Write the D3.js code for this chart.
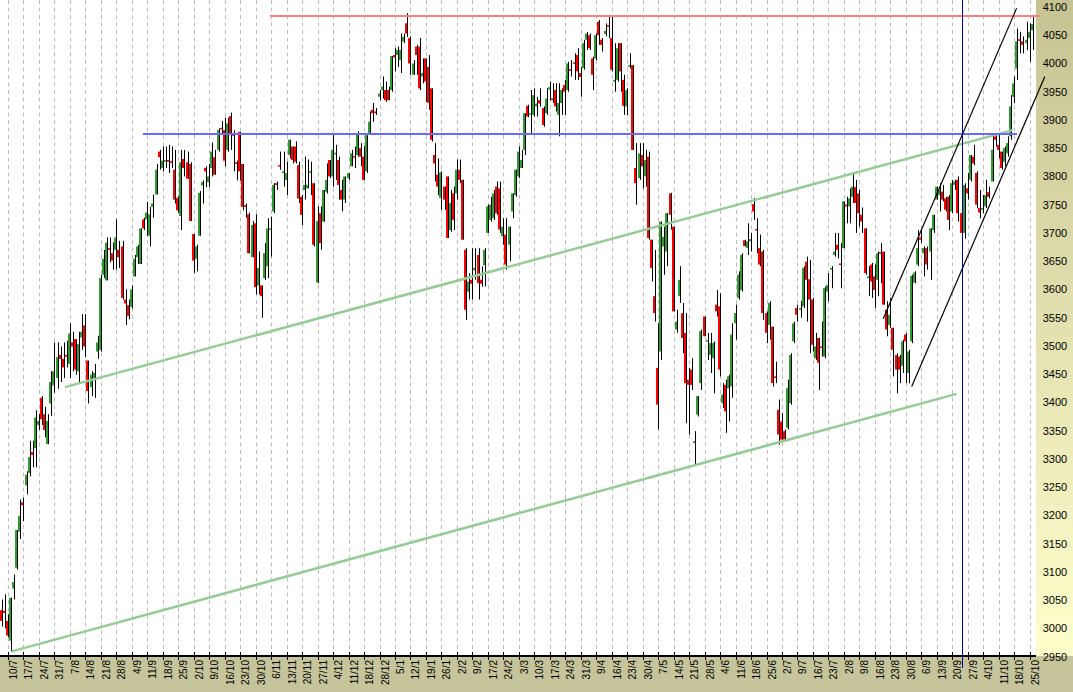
<!DOCTYPE html>
<html>
<head>
<meta charset="utf-8">
<script src="https://d3js.org/d3.v7.min.js"></script>
<style>
  body { margin: 0; overflow: hidden; background: #fff; }
  svg { display: block; }
  .ylab { font-family: "Liberation Sans", Arial, sans-serif; font-size: 11px; fill: #000; }
  .xlab { font-family: "Liberation Sans", Arial, sans-serif; font-size: 10px; fill: #000; }
</style>
</head>
<body>
<script>
// daily candles (index 0 = first visible bar)
var opens = [
  3101,3032,3031,3013,2978,3070,3107,3171,3223,3253, 3275,3312,3319,3360,3408,3379,3326,3398,3430,3443,
  3484,3477,3484,3468,3506,3512,3455,3515,3536,3474, 3427,3442,3490,3493,3626,3616,3673,3664,3670,3670,
  3676,3582,3572,3569,3623,3657,3645,3724,3724,3695, 3746,3768,3844,3815,3826,3829,3827,3812,3762,3730,
  3831,3825,3822,3698,3654,3695,3784,3815,3790,3815, 3834,3847,3886,3882,3847,3907,3875,3825,3879,3822,
  3749,3733,3657,3717,3607,3607,3620,3641,3706,3738, 3788,3820,3806,3794,3838,3853,3853,3820,3764,3776,
  3779,3806,3788,3612,3735,3720,3773,3829,3800,3839, 3829,3776,3759,3797,3818,3836,3838,3850,3835,3809,
  3877,3918,3915,3941,3953,3953,3953,3953,4015,4015, 4006,4039,4071,4045,3980,4030,4030,3977,4009,3994,
  3956,3838,3803,3762,3782,3800,3705,3770,3770,3812, 3794,3670,3596,3617,3634,3661,3617,3643,3700,3723,
  3726,3782,3779,3694,3697,3679,3738,3767,3800,3815, 3847,3925,3910,3909,3924,3935,3921,3912,3954,3938,
  3953,3909,3930,3962,3953,3990,4002,4015,3983,3992, 4042,4050,4009,4009,4074,4042,4052,4068,4045,3968,
  3971,4036,3971,3924,3994,3997,3815,3797,3838,3800, 3835,3688,3588,3461,3490,3676,3667,3770,3711,3529,
  3588,3558,3523,3440,3458,3328,3378,3434,3552,3508, 3484,3478,3573,3570,3399,3431,3425,3428,3540,3585,
  3599,3687,3673,3685,3751,3707,3673,3667,3558,3537, 3534,3446,3387,3366,3349,3355,3399,3508,3567,3564,
  3570,3649,3618,3582,3478,3514,3499,3481,3596,3635, 3661,3679,3646,3673,3750,3747,3764,3781,3770,3732,
  3708,3620,3644,3623,3617,3666,3667,3564,3537,3532, 3484,3481,3464,3520,3452,3508,3612,3644,3692,3664,
  3673,3667,3705,3759,3767,3773,3761,3764,3738,3785, 3794,3735,3700,3779,3794,3835,3806,3744,3741,3747,
  3772,3791,3871,3856,3844,3826,3841,3871,3941,3991, 4043,4039,4036,4045,4059
];
var highs = [
  3114,3051,3060,3025,3054,3095,3174,3228,3231,3278, 3332,3332,3386,3379,3411,3392,3379,3455,3506,3506,
  3499,3506,3509,3540,3525,3512,3525,3556,3556,3474, 3455,3468,3518,3626,3670,3692,3692,3683,3724,3686,
  3686,3600,3582,3607,3661,3679,3708,3727,3755,3746, 3768,3822,3847,3853,3853,3856,3853,3847,3765,3847,
  3847,3844,3825,3698,3679,3774,3793,3818,3822,3860, 3847,3885,3898,3904,3904,3913,3882,3828,3879,3822,
  3752,3736,3721,3733,3667,3607,3682,3726,3729,3788, 3791,3844,3844,3826,3865,3853,3862,3826,3767,3835,
  3830,3826,3788,3747,3747,3776,3823,3829,3877,3856, 3835,3794,3800,3806,3847,3853,3880,3859,3853,3873,
  3915,3930,3921,3953,3977,3968,3959,4013,4027,4030, 4053,4053,4089,4048,4006,4033,4045,4009,4009,4015,
  3956,3859,3832,3809,3782,3800,3776,3782,3830,3830, 3794,3673,3629,3673,3673,3673,3641,3673,3750,3764,
  3776,3791,3791,3726,3726,3711,3770,3812,3853,3847, 3912,3927,3953,3956,3941,3956,3924,3956,3968,3965,
  3965,3965,3956,3971,4003,4006,4018,4027,3994,4042, 4056,4053,4012,4053,4077,4045,4071,4086,4086,4036,
  4036,4036,3980,3956,4018,3997,3859,3859,3859,3847, 3844,3688,3670,3540,3720,3711,3735,3771,3711,3564,
  3641,3576,3558,3461,3478,3349,3411,3529,3552,3523, 3523,3508,3599,3593,3434,3440,3449,3540,3573,3632,
  3664,3688,3717,3700,3762,3726,3697,3670,3561,3579, 3534,3472,3405,3381,3352,3440,3487,3543,3573,3580,
  3641,3658,3652,3585,3523,3514,3543,3605,3629,3641, 3700,3700,3682,3756,3764,3779,3806,3794,3776,3745,
  3708,3641,3647,3644,3667,3682,3667,3579,3585,3532, 3487,3484,3511,3523,3493,3626,3632,3705,3705,3676,
  3676,3708,3732,3782,3788,3785,3764,3767,3794,3794, 3800,3760,3788,3806,3838,3856,3809,3776,3767,3794,
  3782,3874,3874,3877,3844,3853,3871,3944,3977,4062, 4056,4048,4074,4071,4086
];
var lows = [
  3020,3003,3000,2984,2959,3051,3104,3158,3190,3237, 3269,3285,3285,3351,3360,3338,3326,3376,3417,3424,
  3436,3443,3462,3443,3455,3449,3436,3493,3480,3398, 3411,3408,3477,3490,3620,3616,3648,3635,3635,3638,
  3582,3537,3547,3566,3623,3645,3645,3705,3695,3676, 3727,3768,3812,3809,3815,3806,3815,3752,3736,3705,
  3800,3796,3721,3629,3632,3695,3752,3781,3781,3800, 3803,3844,3875,3818,3844,3847,3809,3793,3793,3740,
  3727,3664,3657,3591,3591,3550,3617,3620,3658,3735, 3776,3812,3782,3767,3832,3823,3823,3753,3714,3759,
  3779,3767,3676,3611,3670,3720,3770,3797,3782,3794, 3759,3738,3753,3794,3818,3815,3835,3818,3794,3806,
  3877,3897,3909,3935,3938,3932,3935,3950,3986,3994, 3983,4036,4047,3980,3980,3980,3953,3965,3932,3918,
  3862,3791,3767,3741,3741,3691,3702,3705,3759,3788, 3688,3546,3582,3582,3617,3582,3605,3605,3700,3720,
  3723,3732,3700,3679,3635,3650,3726,3764,3797,3815, 3838,3905,3877,3906,3906,3924,3888,3909,3935,3930,
  3915,3871,3909,3909,3950,3977,3971,3971,3941,3989, 4024,4024,3953,4006,4033,4021,4048,4045,3986,3950,
  3968,3950,3909,3909,3991,3847,3750,3794,3779,3782, 3688,3614,3543,3352,3475,3626,3641,3706,3561,3523,
  3576,3487,3363,3343,3422,3290,3375,3422,3517,3475, 3452,3416,3552,3446,3390,3346,3366,3408,3511,3582,
  3596,3676,3661,3667,3723,3664,3641,3546,3505,3511, 3428,3434,3325,3334,3331,3352,3396,3505,3543,3550,
  3567,3543,3487,3490,3475,3422,3481,3478,3579,3602, 3658,3655,3602,3673,3717,3717,3753,3700,3711,3700,
  3626,3588,3585,3567,3588,3611,3573,3517,3532,3446, 3416,3434,3452,3434,3434,3505,3611,3641,3682,3623,
  3635,3617,3700,3759,3738,3756,3738,3705,3735,3776, 3720,3667,3690,3759,3791,3820,3744,3726,3735,3744,
  3761,3791,3853,3832,3812,3818,3835,3865,3930,3971, 4018,4018,4024,4003,4024
];
var closes = [
  3051,3013,3027,2987,3054,3082,3174,3199,3218,3272, 3303,3307,3373,3367,3370,3351,3367,3436,3455,3480,
  3477,3462,3481,3522,3499,3458,3503,3525,3499,3420, 3449,3452,3506,3620,3654,3683,3670,3651,3692,3657,
  3585,3575,3553,3600,3654,3676,3708,3708,3736,3733, 3752,3812,3834,3828,3829,3826,3824,3759,3740,3825,
  3815,3796,3721,3651,3676,3771,3790,3809,3800,3844, 3803,3882,3885,3828,3894,3875,3872,3822,3809,3746,
  3746,3664,3714,3604,3638,3588,3664,3708,3708,3785, 3785,3818,3809,3806,3865,3829,3826,3761,3732,3785,
  3785,3809,3679,3721,3682,3776,3794,3800,3847,3842, 3785,3759,3800,3806,3841,3834,3877,3835,3794,3873,
  3897,3912,3912,3947,3959,3935,3935,4013,4011,4024, 4024,4047,4053,4000,4000,4015,3956,3983,3968,3930,
  3865,3823,3782,3807,3759,3691,3753,3723,3812,3794, 3688,3564,3614,3610,3638,3611,3610,3670,3747,3750,
  3770,3735,3706,3711,3644,3711,3770,3812,3844,3829, 3912,3906,3912,3944,3929,3929,3891,3938,3958,3935,
  3924,3930,3953,3950,4000,3987,4000,3986,3976,4036, 4053,4027,3980,4050,4050,4033,4058,4065,3989,3971,
  4027,3986,3925,3953,3997,3847,3788,3841,3818,3829, 3691,3638,3558,3396,3720,3693,3735,3732,3561,3543,
  3617,3514,3434,3431,3431,3331,3411,3526,3517,3510, 3505,3505,3561,3458,3414,3384,3446,3520,3558,3626,
  3661,3677,3685,3689,3738,3705,3644,3558,3523,3576, 3434,3443,3343,3334,3334,3425,3484,3540,3555,3567,
  3638,3617,3582,3502,3499,3470,3496,3602,3608,3638, 3667,3670,3645,3756,3747,3761,3782,3753,3735,3720,
  3629,3623,3614,3599,3664,3664,3573,3529,3555,3493, 3458,3458,3508,3508,3490,3624,3630,3673,3688,3673,
  3644,3708,3732,3782,3776,3759,3741,3723,3788,3791, 3735,3700,3785,3770,3838,3823,3750,3736,3744,3767,
  3764,3847,3865,3847,3815,3850,3859,3924,3965,4039, 4040,4033,4042,4056,4070
];

// weekly tick labels (first session of each week)
var weekLabels = [
  "10/7","17/7","24/7","31/7","7/8","14/8","21/8","28/8","4/9","11/9","18/9","25/9",
  "2/10","9/10","16/10","23/10","30/10","6/11","13/11","20/11","27/11","4/12","11/12",
  "18/12","28/12","5/1","12/1","19/1","26/1","2/2","9/2","17/2","24/2","3/3","10/3",
  "17/3","24/3","31/3","9/4","16/4","23/4","30/4","7/5","14/5","21/5","28/5",
  "4/6","11/6","18/6","25/6","2/7","9/7","16/7","23/7","2/8","9/8","16/8","23/8",
  "30/8","6/9","13/9","20/9","27/9","4/10","11/10","18/10","25/10"
];
var weekStart = 3;   // bar index of the first labelled session
var priceTicks = [2950,3000,3050,3100,3150,3200,3250,3300,3350,3400,3450,3500,
                  3550,3600,3650,3700,3750,3800,3850,3900,3950,4000,4050,4100];

// drawn lines, as [bar index, price]
var resistanceLine = [[87.6, 4084], [336.3, 4084]];
var blueLine       = [[46.6, 3875], [328.9, 3875]];
var upperTrend     = [[21.4, 3427], [327.5, 3882]];
var lowerTrend     = [[4.2, 2959], [309.4, 3415]];
var channelTop     = [[285.7, 3548], [328.8, 4098]];
var channelBottom  = [[294.9, 3428], [337.9, 3977]];
var cursorBar = 311.05;

var width = 1073, height = 692,
    plotRight = 1036, axisY = 656;

var svg = d3.select("body").append("svg")
    .attr("width", width)
    .attr("height", height);

var x = d3.scaleLinear().domain([0.42, 336.34]).range([0, 1040]);
var y = d3.scaleLinear().domain([2950, 4100]).range([656.5, 7]);

var defs = svg.append("defs");
var grad = defs.append("linearGradient")
    .attr("id", "rightPanel")
    .attr("x1", 0).attr("y1", 0).attr("x2", 0).attr("y2", 1);
grad.append("stop").attr("offset", "0%").attr("stop-color", "#c6c393");
grad.append("stop").attr("offset", "100%").attr("stop-color", "#ffffcc");

svg.append("rect").attr("width", width).attr("height", height).attr("fill", "#fff");
svg.append("rect")
    .attr("x", plotRight).attr("y", 0)
    .attr("width", width - plotRight).attr("height", axisY)
    .attr("fill", "url(#rightPanel)");
svg.append("rect")
    .attr("x", 0).attr("y", axisY)
    .attr("width", width).attr("height", height - axisY)
    .attr("fill", "#c5c49a");

var plot = svg.append("g");

// dashed weekly grid
plot.selectAll(".grid")
  .data(weekLabels)
  .enter().append("line")
    .attr("x1", function(d, k) { return Math.round(x(weekStart + 5 * k)) + 0.5; })
    .attr("x2", function(d, k) { return Math.round(x(weekStart + 5 * k)) + 0.5; })
    .attr("y1", 0).attr("y2", axisY)
    .attr("stroke", "#bcbcbc")
    .attr("stroke-dasharray", "4,3.5");

var bars = d3.range(opens.length);

// wicks
plot.selectAll(".wick")
  .data(bars)
  .enter().append("rect")
    .attr("x", function(i) { return Math.round(x(i)); })
    .attr("width", 1)
    .attr("y", function(i) { return y(highs[i]); })
    .attr("height", function(i) { return Math.max(1, y(lows[i]) - y(highs[i])); })
    .attr("fill", "#000");

// bodies
plot.selectAll(".body")
  .data(bars)
  .enter().append("rect")
    .attr("x", function(i) { return Math.round(x(i)) - 2; })
    .attr("width", 2)
    .attr("y", function(i) { return y(Math.max(opens[i], closes[i])); })
    .attr("height", function(i) { return Math.max(1.5, Math.abs(y(opens[i]) - y(closes[i]))); })
    .attr("fill", function(i) { return closes[i] >= opens[i] ? "#339933" : "#ff0000"; });

var line = d3.line()
    .x(function(d) { return x(d[0]); })
    .y(function(d) { return y(d[1]); });

function drawLine(pts, color, w) {
  plot.append("path")
    .attr("d", line(pts))
    .attr("fill", "none")
    .attr("stroke", color)
    .attr("stroke-width", w);
}

drawLine(upperTrend, "#96cb96", 2.5);
drawLine(lowerTrend, "#96cb96", 2.5);
drawLine(resistanceLine, "#ff7f7f", 2);
drawLine(blueLine, "#6a6aff", 2);
drawLine(channelTop, "#000", 1.2);
drawLine(channelBottom, "#000", 1.2);

// cursor line
var cx = Math.round(x(cursorBar)) + 0.5;
svg.append("line")
    .attr("x1", cx).attr("x2", cx)
    .attr("y1", 0).attr("y2", 668)
    .attr("stroke", "#00008c")
    .attr("stroke-width", 1);

// x axis
svg.append("line")
    .attr("x1", 0).attr("x2", plotRight)
    .attr("y1", axisY).attr("y2", axisY)
    .attr("stroke", "#000").attr("stroke-width", 2);

var xt = svg.selectAll(".xt")
  .data(weekLabels)
  .enter().append("g")
    .attr("transform", function(d, k) { return "translate(" + (Math.round(x(weekStart + 5 * k)) + 0.5) + ",0)"; });
xt.append("line")
    .attr("y1", axisY - 4).attr("y2", axisY + 4)
    .attr("stroke", "#000");
xt.append("text")
    .attr("class", "xlab")
    .attr("transform", "translate(8," + (axisY + 4) + ") rotate(-90)")
    .attr("text-anchor", "end")
    .text(function(d) { return d; });

// price labels
svg.selectAll(".ylab")
  .data(priceTicks)
  .enter().append("text")
    .attr("class", "ylab")
    .attr("x", 1055)
    .attr("y", function(d) { return y(d) + 4; })
    .attr("text-anchor", "middle")
    .text(function(d) { return d; });
</script>
</body>
</html>
